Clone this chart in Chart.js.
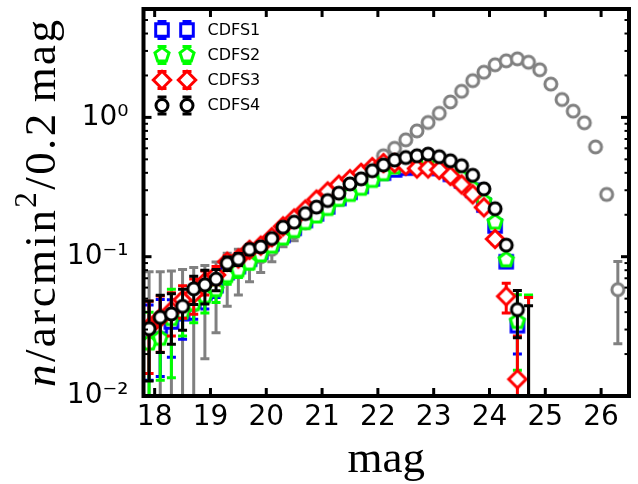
<!DOCTYPE html>
<html>
<head>
<meta charset="utf-8">
<script src="https://cdn.jsdelivr.net/npm/chart.js@4/dist/chart.umd.min.js"></script>
<style>
  html, body { margin: 0; padding: 0; background: #ffffff; overflow: hidden; }
  canvas { display: block; }
</style>
</head>
<body>
<canvas id="lf" width="638" height="484"></canvas>
<script>
// Magnitude bin centres (0.2 mag bins)
const magBins = [17.9, 18.1, 18.3, 18.5, 18.7, 18.9, 19.1, 19.3, 19.5, 19.7,
                 19.9, 20.1, 20.3, 20.5, 20.7, 20.9, 21.1, 21.3, 21.5, 21.7,
                 21.9, 22.1, 22.3, 22.5, 22.7, 22.9, 23.1, 23.3, 23.5, 23.7,
                 23.9, 24.1, 24.3, 24.5, 24.7];
const refBins = [17.9, 18.1, 18.3, 18.5, 18.7, 18.9, 19.1, 19.3, 19.5, 19.7,
                 19.9, 20.1, 20.3, 20.5, 20.7, 20.9, 21.1, 21.3, 21.5, 21.7,
                 21.9, 22.1, 22.3, 22.5, 22.7, 22.9, 23.1, 23.3, 23.5, 23.7,
                 23.9, 24.1, 24.3, 24.5, 24.7, 24.9, 25.1, 25.3, 25.5, 25.7,
                 25.9, 26.1, 26.3];

// Number counts per arcmin^2 per 0.2 mag, and their 1-sigma errors
const cdfs1 = [0.029, 0.0315, 0.034, 0.039, 0.048, 0.055, 0.062, 0.077, 0.085, 0.096,
               0.108, 0.124, 0.142, 0.160, 0.182, 0.203, 0.228, 0.262, 0.290, 0.320,
               0.362, 0.398, 0.420, 0.432, 0.450, 0.450, 0.430, 0.390, 0.350, 0.300,
               0.235, 0.166, 0.092, 0.032, 0];
const cdfs1Err = [0.016, 0.0177, 0.015, 0.0134, 0.0125, 0.0129, 0.011, 0.0095, 0.009, 0.0085,
                  0.0085, 0.008, 0.008, 0.008, 0.008, 0.008, 0.008, 0.008, 0.008, 0.008,
                  0.008, 0.008, 0.008, 0.008, 0.008, 0.008, 0.008, 0.008, 0.008, 0.008,
                  0.008, 0.008, 0.008, 0.012, 0.052];

const cdfs2 = [0.024, 0.026, 0.036, 0.040, 0.046, 0.052, 0.058, 0.073, 0.080, 0.090,
               0.103, 0.119, 0.136, 0.154, 0.176, 0.196, 0.222, 0.258, 0.280, 0.310,
               0.353, 0.394, 0.440, 0.470, 0.480, 0.480, 0.460, 0.420, 0.370, 0.310,
               0.250, 0.177, 0.095, 0.0343, 0];
const cdfs2Err = [0.016, 0.013, 0.0225, 0.013, 0.0125, 0.0125, 0.011, 0.0095, 0.009, 0.0085,
                  0.0085, 0.008, 0.008, 0.008, 0.008, 0.008, 0.008, 0.008, 0.008, 0.008,
                  0.008, 0.008, 0.008, 0.008, 0.008, 0.008, 0.008, 0.008, 0.008, 0.008,
                  0.008, 0.008, 0.008, 0.019, 0.053];

const cdfs3 = [0.0312, 0.0364, 0.041, 0.049, 0.054, 0.066, 0.074, 0.092, 0.097, 0.112,
               0.120, 0.138, 0.165, 0.188, 0.218, 0.257, 0.294, 0.329, 0.360, 0.400,
               0.440, 0.470, 0.470, 0.450, 0.430, 0.430, 0.420, 0.380, 0.330, 0.280,
               0.226, 0.134, 0.052, 0.0132, 0];
const cdfs3Err = [0.0167, 0.0158, 0.014, 0.0128, 0.0153, 0.013, 0.011, 0.0095, 0.009, 0.0085,
                  0.0085, 0.008, 0.008, 0.008, 0.008, 0.008, 0.008, 0.008, 0.008, 0.008,
                  0.008, 0.008, 0.008, 0.008, 0.008, 0.008, 0.008, 0.008, 0.008, 0.008,
                  0.008, 0.010, 0.0125, 0.0138, 0.051];

const cdfs4 = [0.0304, 0.0367, 0.0388, 0.044, 0.0588, 0.0628, 0.069, 0.0897, 0.0958, 0.1128,
               0.1177, 0.135, 0.163, 0.177, 0.204, 0.227, 0.253, 0.286, 0.333, 0.362,
               0.414, 0.455, 0.494, 0.515, 0.530, 0.545, 0.522, 0.488, 0.450, 0.384,
               0.307, 0.221, 0.121, 0.0417, 0];
const cdfs4Err = [0.0176, 0.0162, 0.0153, 0.0143, 0.0135, 0.0170, 0.0120, 0.0100, 0.0095, 0.0090,
                  0.0090, 0.0085, 0.0085, 0.0085, 0.0085, 0.0085, 0.0085, 0.0085, 0.0085, 0.0085,
                  0.0085, 0.0085, 0.0085, 0.0085, 0.0085, 0.0085, 0.0085, 0.0085, 0.0085, 0.0085,
                  0.0085, 0.0085, 0.0085, 0.0155, 0.0445];

// Deep reference counts (grey open circles)
const refCounts = [0.030, 0.033, 0.036, 0.040, 0.045, 0.0525, 0.060, 0.075, 0.083, 0.092,
                   0.100, 0.113, 0.136, 0.150, 0.175, 0.200, 0.225, 0.260, 0.300, 0.350,
                   0.420, 0.530, 0.600, 0.690, 0.800, 0.920, 1.07, 1.29, 1.54, 1.835,
                   2.11, 2.386, 2.547, 2.633, 2.49, 2.198, 1.735, 1.343, 1.109, 0.915,
                   0.614, 0.28, 0.058];
const refErr = [0.048, 0.045, 0.043, 0.041, 0.0385, 0.034, 0.0315, 0.031, 0.030, 0.026,
                0.023, 0.021, 0.018, 0.020, 0.015, 0.014, 0.013, 0.013, 0.013, 0.013,
                0.013, 0.013, 0.013, 0.013, 0.014, 0.015, 0.016, 0.018, 0.02, 0.02,
                0.02, 0.02, 0.02, 0.02, 0.02, 0.02, 0.02, 0.02, 0.02, 0.02,
                0.02, 0.02, 0.0343];

// Axis ticks
const xTicks = [18, 19, 20, 21, 22, 23, 24, 25, 26];
const yTicks = [0.01, 0.1, 1];
const yTickLabels = ['10\u207B\u00B2', '10\u207B\u00B9', '10\u2070'];
const yMinorTicks = [0.02, 0.03, 0.04, 0.05, 0.06, 0.07, 0.08, 0.09,
                     0.2, 0.3, 0.4, 0.5, 0.6, 0.7, 0.8, 0.9,
                     2, 3, 4, 5];

const seriesNames = ['CDFS1', 'CDFS2', 'CDFS3', 'CDFS4'];

// ---- marker geometry -------------------------------------------------
const MARK = {
  circle:  { r: 6 },
  square:  { half: 6.3 },
  diamond: { r: 8.7 },
  pentagon:{ r: 7.4 }
};

function markerPath(g, shape, x, y) {
  g.beginPath();
  if (shape === 'circle') {
    g.arc(x, y, MARK.circle.r, 0, Math.PI * 2);
  } else if (shape === 'square') {
    const h = MARK.square.half;
    g.rect(x - h, y - h, 2 * h, 2 * h);
  } else if (shape === 'diamond') {
    const r = MARK.diamond.r;
    g.moveTo(x, y - r); g.lineTo(x + r, y); g.lineTo(x, y + r); g.lineTo(x - r, y);
    g.closePath();
  } else if (shape === 'pentagon') {
    const r = MARK.pentagon.r;
    for (let i = 0; i < 5; i++) {
      const a = -Math.PI / 2 + i * 2 * Math.PI / 5;
      const px = x + r * Math.cos(a), py = y + r * Math.sin(a);
      if (i === 0) g.moveTo(px, py); else g.lineTo(px, py);
    }
    g.closePath();
  }
}

function drawMarker(g, shape, color, x, y) {
  g.save();
  markerPath(g, shape, x, y);
  g.fillStyle = '#ffffff';
  g.fill();
  g.lineWidth = 3;
  g.lineJoin = 'miter';
  g.strokeStyle = color;
  g.stroke();
  g.restore();
}

function markerImage(shape, color) {
  const c = document.createElement('canvas');
  c.width = 30; c.height = 30;
  drawMarker(c.getContext('2d'), shape, color, 15, 15);
  return c;
}

const styles = [
  { shape: 'square',   color: '#0000ff' },
  { shape: 'pentagon', color: '#00ff00' },
  { shape: 'diamond',  color: '#ff0000' },
  { shape: 'circle',   color: '#000000' }
];

function points(bins, vals) {
  return bins.map((m, i) => ({ x: m, y: vals[i] > 0 ? vals[i] : null }));
}

// higher `order` is painted first, so the reference set sits at the back
function makeSet(label, bins, vals, errs, st, order) {
  return {
    label: label,
    data: points(bins, vals),
    vals: vals,
    errs: errs,
    errColor: st.color,
    order: order,
    pointStyle: markerImage(st.shape, st.color),
    pointRadius: 8,
    pointHoverRadius: 8,
    showLine: false
  };
}

const datasets = [
  makeSet('ref', refBins, refCounts, refErr, { shape: 'circle', color: '#808080' }, 5),
  makeSet(seriesNames[0], magBins, cdfs1, cdfs1Err, styles[0], 4),
  makeSet(seriesNames[1], magBins, cdfs2, cdfs2Err, styles[1], 3),
  makeSet(seriesNames[2], magBins, cdfs3, cdfs3Err, styles[2], 2),
  makeSet(seriesNames[3], magBins, cdfs4, cdfs4Err, styles[3], 1)
];

// ---- plugins ----------------------------------------------------------
function seg(ctx, x1, y1, x2, y2) {
  ctx.beginPath(); ctx.moveTo(x1, y1); ctx.lineTo(x2, y2); ctx.stroke();
}

// vertical error bars with caps, drawn just beneath each series' markers
const errorBars = {
  id: 'errorBars',
  beforeDatasetDraw(chart, args) {
    const ds = chart.data.datasets[args.index];
    if (!ds.errs) return;
    const { ctx, chartArea: a, scales: { x, y } } = chart;
    ctx.save();
    ctx.beginPath();
    ctx.rect(a.left, a.top, a.right - a.left, a.bottom - a.top);
    ctx.clip();
    ctx.strokeStyle = ds.errColor;
    ctx.lineWidth = 3;
    ctx.lineCap = 'butt';
    ds.data.forEach((p, i) => {
      const e = ds.errs[i];
      if (!e) return;
      const v = ds.vals[i];
      const px = x.getPixelForValue(p.x);
      const hi = y.getPixelForValue(v + e);
      const lo = (v - e) > 0 ? y.getPixelForValue(v - e) : a.bottom + 10;
      seg(ctx, px, hi, px, lo);
      seg(ctx, px - 4.5, hi, px + 4.5, hi);
      if ((v - e) > 0) seg(ctx, px - 4.5, lo, px + 4.5, lo);
    });
    ctx.restore();
  }
};

// box frame with inward ticks on all four sides
const frame = {
  id: 'frame',
  afterDatasetsDraw(chart) {
    const { ctx, chartArea: a, scales: { x, y } } = chart;
    ctx.save();
    ctx.strokeStyle = '#000000';
    ctx.lineCap = 'butt';
    ctx.lineWidth = 3;
    xTicks.forEach(t => {
      const px = x.getPixelForValue(t);
      seg(ctx, px, a.bottom, px, a.bottom - 8);
      seg(ctx, px, a.top, px, a.top + 8);
    });
    yTicks.forEach(t => {
      const py = y.getPixelForValue(t);
      seg(ctx, a.left, py, a.left + 8, py);
      seg(ctx, a.right, py, a.right - 8, py);
    });
    ctx.lineWidth = 2;
    yMinorTicks.forEach(t => {
      const py = y.getPixelForValue(t);
      seg(ctx, a.left, py, a.left + 4.5, py);
      seg(ctx, a.right, py, a.right - 4.5, py);
    });
    ctx.lineWidth = 4;
    ctx.strokeRect(a.left, a.top, a.right - a.left, a.bottom - a.top);
    ctx.restore();
  }
};

// legend: two markers with error caps, then the series name
const legendBox = {
  id: 'legendBox',
  afterDatasetsDraw(chart) {
    const ctx = chart.ctx;
    const rows = [30, 55, 80, 105.5];
    const mx = [162, 187];
    ctx.save();
    styles.forEach((st, k) => {
      const yy = rows[k];
      mx.forEach(xx => {
        ctx.strokeStyle = st.color;
        ctx.lineWidth = 3;
        seg(ctx, xx, yy - 8.5, xx, yy + 8.5);
        seg(ctx, xx - 4.5, yy - 8.5, xx + 4.5, yy - 8.5);
        seg(ctx, xx - 4.5, yy + 8.5, xx + 4.5, yy + 8.5);
        drawMarker(ctx, st.shape, st.color, xx, yy);
      });
      ctx.fillStyle = '#000000';
      ctx.font = '16px "DejaVu Sans"';
      ctx.textAlign = 'left';
      ctx.textBaseline = 'middle';
      ctx.fillText(seriesNames[k], 207.5, yy + 0.5);
    });
    ctx.restore();
  }
};

// axis titles in a serif face, with the math-style y label
const titles = {
  id: 'titles',
  afterDraw(chart) {
    const ctx = chart.ctx;
    const a = chart.chartArea;
    const roman = '45px "Liberation Serif"';
    ctx.save();
    ctx.fillStyle = '#000000';
    ctx.textBaseline = 'alphabetic';
    ctx.textAlign = 'center';
    ctx.font = roman;
    ctx.fillText('mag', (a.left + a.right) / 2, 472);

    const glyphs = [];
    const add = (s, font, dy) => { for (const ch of s) glyphs.push({ ch, font, dy }); };
    add('n', 'italic 45px "Liberation Serif"', 0);
    add('/arcmin', roman, 0);
    add('2', '31px "Liberation Serif"', -19);
    add('/0.2', roman, 0);
    glyphs.push({ gap: 9 });
    add('mag', roman, 0);
    let natural = 0, count = 0;
    glyphs.forEach(gl => {
      if (gl.gap) { natural += gl.gap; return; }
      ctx.font = gl.font;
      gl.w = ctx.measureText(gl.ch).width;
      natural += gl.w; count++;
    });
    const target = 367;
    const extra = (target - natural) / (count - 1);
    ctx.translate(55, 387);
    ctx.rotate(-Math.PI / 2);
    ctx.textAlign = 'left';
    let cx = 0;
    glyphs.forEach(gl => {
      if (gl.gap) { cx += gl.gap; return; }
      ctx.font = gl.font;
      ctx.fillText(gl.ch, cx, gl.dy);
      cx += gl.w + extra;
    });
    ctx.restore();
  }
};

new Chart(document.getElementById('lf'), {
  type: 'scatter',
  data: { datasets: datasets },
  plugins: [errorBars, frame, legendBox, titles],
  options: {
    responsive: false,
    animation: false,
    devicePixelRatio: 1,
    layout: { padding: { top: 7, right: 2, left: 0, bottom: 0 } },
    plugins: { legend: { display: false }, tooltip: { enabled: false } },
    scales: {
      x: {
        type: 'linear',
        min: 17.8,
        max: 26.5,
        grid: { display: false, drawTicks: false },
        border: { display: false },
        afterBuildTicks: s => { s.ticks = xTicks.map(v => ({ value: v })); },
        afterFit: s => {
          s.height = 88;
          s.paddingLeft = 0; s.paddingRight = 0; s.paddingTop = 0; s.paddingBottom = 0;
        },
        ticks: {
          autoSkip: false,
          maxRotation: 0,
          padding: 5,
          color: '#000000',
          font: { family: 'DejaVu Sans', size: 28 },
          callback: v => String(v)
        }
      },
      y: {
        type: 'logarithmic',
        min: 0.01,
        max: 6,
        grid: { display: false, drawTicks: false },
        border: { display: false },
        afterBuildTicks: s => { s.ticks = yTicks.map(v => ({ value: v })); },
        afterFit: s => {
          s.width = 143.5;
          s.paddingLeft = 0; s.paddingRight = 0; s.paddingTop = 0; s.paddingBottom = 0;
        },
        ticks: {
          autoSkip: false,
          padding: 15,
          color: '#000000',
          font: { family: 'DejaVu Sans', size: 28 },
          callback: v => {
            const k = yTicks.indexOf(v);
            return k >= 0 ? yTickLabels[k] : '';
          }
        }
      }
    }
  }
});
</script>
</body>
</html>
